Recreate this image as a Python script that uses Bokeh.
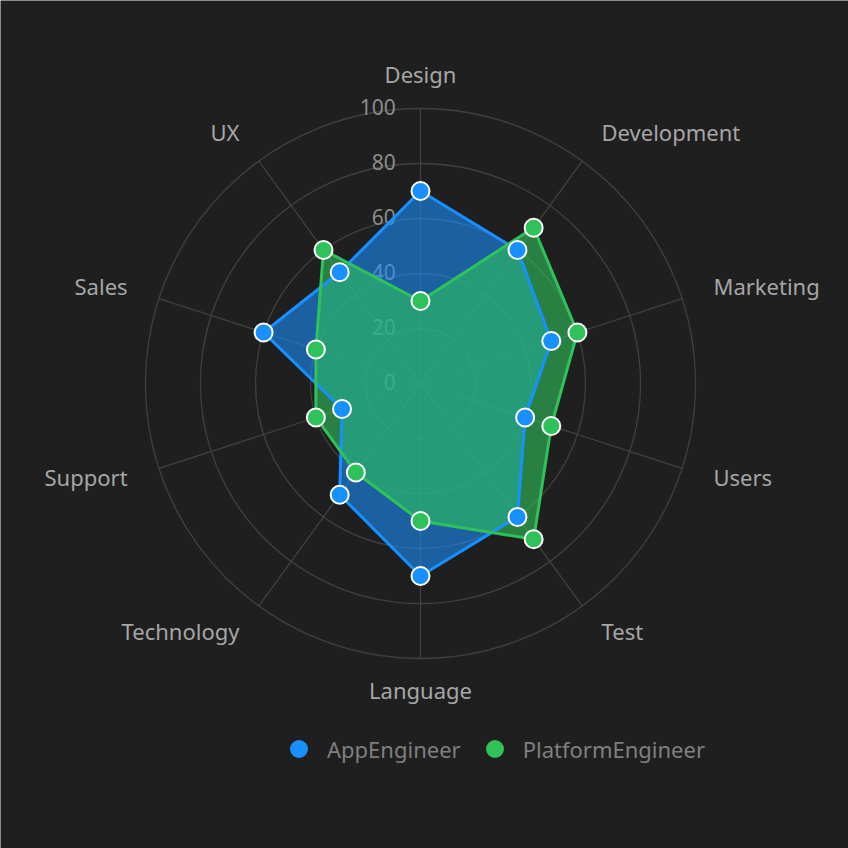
import numpy as np
from bokeh.plotting import figure
from bokeh.models import Range1d, Legend, LegendItem, ColumnDataSource
from bokeh.core.properties import value
from bokeh.embed import file_html
from bokeh.resources import INLINE

categories = ["Design", "Development", "Marketing", "Users", "Test",
              "Language", "Technology", "Support", "Sales", "UX"]
app_engineer = [70, 60, 50, 40, 60, 70, 50, 30, 60, 50]
platform_engineer = [30, 70, 60, 50, 70, 50, 40, 40, 40, 60]
tick_values = [0, 20, 40, 60, 80, 100]
series_names = ["AppEngineer", "PlatformEngineer"]

BG = "#1f1f1f"
BLUE = "#1890ff"
GREEN = "#2fc25b"
FONT = "Noto Sans"

px = 2.75  # pixels per unit
cx, cy = 420, 383
W = H = 848

p = figure(width=W, height=H, output_backend="svg", toolbar_location=None,
           x_range=Range1d(-cx / px, (W - cx) / px),
           y_range=Range1d(-(H - cy) / px, cy / px),
           x_axis_location=None, y_axis_location=None,
           min_border=0, background_fill_color=BG, border_fill_color=BG,
           outline_line_color=None)
p.xgrid.visible = False
p.ygrid.visible = False

n = len(categories)
ang = np.arange(n) * 2 * np.pi / n  # clockwise from top
rmax = max(tick_values)

def xy(vals):
    v = np.asarray(vals, dtype=float)
    return list(v * np.sin(ang)), list(v * np.cos(ang))

# grid circles
for t in tick_values[1:]:
    p.circle(x=[0], y=[0], radius=t, fill_color=None, line_color="#404040", line_width=1.3)
# spokes
sx = [[0, rmax * np.sin(a)] for a in ang]
sy = [[0, rmax * np.cos(a)] for a in ang]
p.multi_line(xs=sx, ys=sy, line_color="#404040", line_width=1.3)

# tick labels
p.text(x=[-9] * len(tick_values), y=tick_values, text=[str(t) for t in tick_values],
       text_align="right", text_baseline="middle", text_color="#8c8c8c",
       text_font=value(FONT), text_font_size="21px", y_offset=-2)

# category labels
lr = 112
lx = [lr * np.sin(a) for a in ang]
ly = [lr * np.cos(a) for a in ang]
aligns = []
for a in ang:
    s = np.sin(a)
    aligns.append("center" if abs(s) < 1e-6 else ("left" if s > 0 else "right"))
src_lab = ColumnDataSource(dict(x=lx, y=ly, t=categories, al=aligns))
p.text(x="x", y="y", text="t", text_align="al", text_baseline="middle",
       source=src_lab, text_color="#a6a6a6", text_font=value(FONT),
       text_font_size="22px", y_offset=-2)

ax, ay = xy(app_engineer)
gx, gy = xy(platform_engineer)

p.patch(ax, ay, fill_color=BLUE, fill_alpha=0.58, line_color=None)
p.patch(gx, gy, fill_color=GREEN, fill_alpha=0.6, line_color=None)
p.line(ax + ax[:1], ay + ay[:1], line_color=BLUE, line_width=3)
p.line(gx + gx[:1], gy + gy[:1], line_color=GREEN, line_width=3)
p.scatter(ax, ay, size=18, fill_color=BLUE, line_color="white", line_width=2)
p.scatter(gx, gy, size=18, fill_color=GREEN, line_color="white", line_width=2)

# legend entries (dummy points outside the visible range)
r1 = p.scatter(x=[1000], y=[1000], size=18, fill_color=BLUE, line_color=None)
r2 = p.scatter(x=[1000], y=[1000], size=18, fill_color=GREEN, line_color=None)
legend = Legend(items=[LegendItem(label=series_names[0], renderers=[r1]),
                       LegendItem(label=series_names[1], renderers=[r2])],
                orientation="horizontal", location=(276, 77),
                label_text_color="#7f7f7f", label_text_font=FONT,
                label_text_font_size="22px", glyph_width=45, glyph_height=45,
                label_standoff=6, spacing=11, padding=0, margin=0,
                background_fill_alpha=0, border_line_alpha=0)
p.add_layout(legend, "center")

open("out.html", "w").write(file_html(p, INLINE))
